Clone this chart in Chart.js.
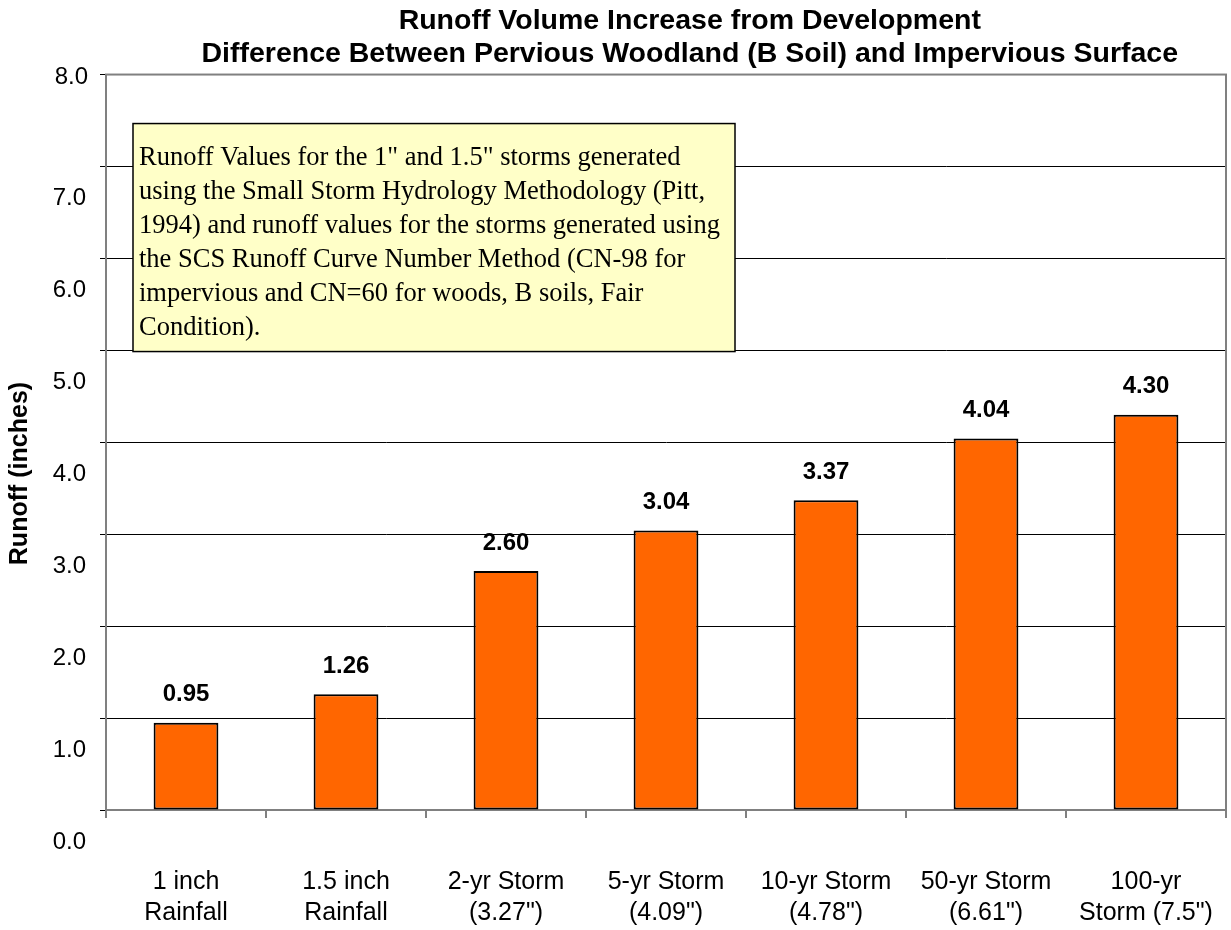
<!DOCTYPE html>
<html lang="en">
<head>
  <meta charset="UTF-8">
  <title>Runoff Volume Increase from Development</title>
  <script src="https://cdn.jsdelivr.net/npm/chart.js"></script>
  <style>
    html, body { margin: 0; padding: 0; background: #fff; }
    canvas { display: block; }
  </style>
</head>
<body>
  <canvas id="graficoRunoff" width="1231" height="930"></canvas>

  <script>
    // datos
    const categorias = [
      ['1 inch', 'Rainfall'],
      ['1.5 inch', 'Rainfall'],
      ['2-yr Storm', '(3.27")'],
      ['5-yr Storm', '(4.09")'],
      ['10-yr Storm', '(4.78")'],
      ['50-yr Storm', '(6.61")'],
      ['100-yr', 'Storm (7.5")']
    ];
    const escorrentia = [0.95, 1.26, 2.60, 3.04, 3.37, 4.04, 4.30];
    const yMin = 0;
    const yMax = 8;
    const yPaso = 1;
    const titulo = [
      'Runoff Volume Increase from Development',
      'Difference Between Pervious Woodland (B Soil) and Impervious Surface'
    ];
    const tituloEjeY = 'Runoff (inches)';
    const nota = [
      'Runoff Values for the 1" and 1.5" storms generated',
      'using the Small Storm Hydrology Methodology (Pitt,',
      '1994) and runoff values for the storms generated using',
      'the SCS Runoff Curve Number Method (CN-98 for',
      'impervious and CN=60 for woods, B soils, Fair',
      'Condition).'
    ];

    const sans = '"Liberation Sans", Arial, sans-serif';
    const serif = '"Liberation Serif", "Times New Roman", serif';
    const gris = '#808080';
    // espacios duros para correr los titulos como en el original
    const nb = n => '\u00A0'.repeat(n);

    // marco gris alrededor del area del grafico
    const marco = {
      id: 'marco',
      beforeDatasetsDraw(chart) {
        const { ctx, chartArea: a } = chart;
        ctx.save();
        ctx.strokeStyle = gris;
        ctx.lineWidth = 2;
        ctx.strokeRect(a.left, a.top, a.right - a.left, a.bottom - a.top);
        ctx.restore();
      }
    };

    // etiquetas de valor encima de cada barra + etiqueta 8.0
    const etiquetas = {
      id: 'etiquetas',
      afterDatasetsDraw(chart) {
        const { ctx } = chart;
        const meta = chart.getDatasetMeta(0);
        ctx.save();
        ctx.font = 'bold 24px ' + sans;
        ctx.fillStyle = '#000';
        ctx.textAlign = 'center';
        ctx.textBaseline = 'middle';
        meta.data.forEach((bar, i) => {
          ctx.fillText(escorrentia[i].toFixed(2), bar.x, bar.y - 28);
        });
        const y = chart.scales.y;
        ctx.font = '24px ' + sans;
        ctx.textAlign = 'right';
        ctx.fillText(yMax.toFixed(1), y.right - 18, y.getPixelForValue(yMax) + 3);
        ctx.restore();
      }
    };

    // cuadro de texto amarillo
    const cuadro = {
      id: 'cuadro',
      afterDraw(chart) {
        const { ctx, chartArea: a } = chart;
        const x = a.left + 27, top = a.top + 49, w = 602, h = 228;
        ctx.save();
        ctx.fillStyle = '#FFFFC8';
        ctx.fillRect(x, top, w, h);
        ctx.strokeStyle = '#000';
        ctx.lineWidth = 1.5;
        ctx.strokeRect(x, top, w, h);
        ctx.fillStyle = '#000';
        ctx.font = '26.5px ' + serif;
        ctx.textAlign = 'left';
        ctx.textBaseline = 'middle';
        nota.forEach((linea, i) => {
          ctx.fillText(linea, x + 6, top + 34 + i * 34);
        });
        ctx.restore();
      }
    };

    window.onload = () => {
      const ctx = document.getElementById('graficoRunoff').getContext('2d');
      new Chart(ctx, {
        type: 'bar',
        data: {
          labels: categorias,
          datasets: [{
            label: 'Runoff',
            data: escorrentia,
            backgroundColor: '#FF6600',
            borderColor: '#000',
            borderWidth: 2,
            borderSkipped: false,
            barPercentage: 0.405,
            categoryPercentage: 1
          }]
        },
        options: {
          responsive: false,
          animation: false,
          devicePixelRatio: 1,
          layout: { padding: { top: 0, right: 5, bottom: 0, left: 0 } },
          plugins: {
            legend: { display: false },
            tooltip: { enabled: false },
            title: {
              display: true,
              fullSize: false,
              text: titulo.map(t => nb(6) + t),
              color: '#000',
              font: { family: sans, size: 28.5, weight: 'bold', lineHeight: 1.15 },
              padding: { top: 5, bottom: 4 }
            }
          },
          scales: {
            x: {
              offset: true,
              grid: {
                offset: true,
                drawOnChartArea: false,
                drawTicks: true,
                tickLength: 8,
                color: gris,
                lineWidth: 2
              },
              border: { display: true, color: gris, width: 2 },
              ticks: {
                color: '#000',
                padding: 48,
                maxRotation: 0,
                autoSkip: false,
                font: { family: sans, size: 25, lineHeight: 1.25 }
              },
              afterFit(scale) {
                scale.height = 120;
                scale.paddingLeft = 0;
                scale.paddingRight = 0;
              }
            },
            y: {
              min: yMin,
              max: yMax,
              grid: {
                color: '#000',
                lineWidth: 1,
                tickLength: 6,
                drawTicks: true
              },
              border: { display: true, color: gris, width: 2 },
              ticks: {
                stepSize: yPaso,
                color: '#000',
                padding: 14,
                labelOffset: 32,
                font: { family: sans, size: 24 },
                callback: v => v === yMax ? '' : v.toFixed(1)
              },
              title: {
                display: true,
                text: tituloEjeY + nb(9),
                color: '#000',
                font: { family: sans, size: 25, weight: 'bold' },
                padding: { top: 5, bottom: 0 }
              },
              afterFit(scale) { scale.width = 106; }
            }
          }
        },
        plugins: [marco, etiquetas, cuadro]
      });
    };
  </script>
</body>
</html>
